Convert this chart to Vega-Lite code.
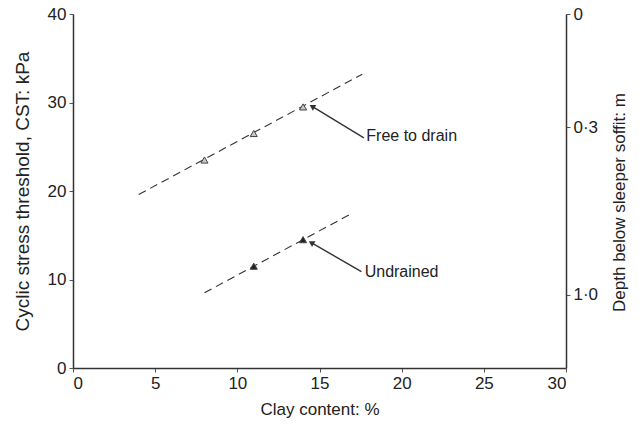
{
  "$schema": "https://vega.github.io/schema/vega-lite/v6.json",
  "width": 493,
  "height": 354,
  "autosize": "none",
  "padding": {"left": 73, "top": 14, "right": 73, "bottom": 60},
  "background": "white",
  "config": {
    "view": {"stroke": null},
    "font": "Liberation Sans",
    "axis": {
      "grid": false,
      "labelFont": "Liberation Sans",
      "titleFont": "Liberation Sans",
      "labelFontSize": 17,
      "titleFontSize": 17,
      "titleFontWeight": "normal",
      "labelColor": "#222",
      "titleColor": "#222",
      "domainColor": "#333",
      "domainWidth": 1.5,
      "tickColor": "#555",
      "tickSize": 4
    }
  },
  "datasets": {
    "lines": [
      {"series": "Free to drain", "clay": 4.0, "cst": 19.6},
      {"series": "Free to drain", "clay": 17.6, "cst": 33.2},
      {"series": "Undrained", "clay": 8.0, "cst": 8.5},
      {"series": "Undrained", "clay": 17.0, "cst": 17.5}
    ],
    "points": [
      {"series": "Free to drain", "clay": 8, "cst": 23.5},
      {"series": "Free to drain", "clay": 11, "cst": 26.5},
      {"series": "Free to drain", "clay": 14, "cst": 29.5},
      {"series": "Undrained", "clay": 11, "cst": 11.5},
      {"series": "Undrained", "clay": 14, "cst": 14.5}
    ],
    "notes": [
      {"label": "Free to drain", "tx": 17.7, "ty": 26.0, "hx": 14.6, "hy": 29.5, "lx": 17.85, "ly": 26.2},
      {"label": "Undrained", "tx": 17.55, "ty": 10.9, "hx": 14.55, "hy": 14.1, "lx": 17.75, "ly": 10.8}
    ],
    "depth": [
      {"depth": "0", "cst": 40},
      {"depth": "0·3", "cst": 27.2},
      {"depth": "1·0", "cst": 8.3}
    ]
  },
  "layer": [
    {
      "layer": [
        {
          "data": {"name": "lines"},
          "mark": {"type": "line", "strokeDash": [8, 5], "strokeWidth": 1.1, "color": "#333"},
          "encoding": {
            "x": {"field": "clay", "type": "quantitative", "scale": {"domain": [0, 30], "nice": false},
              "axis": {"values": [0, 5, 10, 15, 20, 25, 30], "title": "Clay content: %", "titlePadding": 10, "labelPadding": 3}},
            "y": {"field": "cst", "type": "quantitative", "scale": {"domain": [0, 40], "nice": false},
              "axis": {"values": [0, 10, 20, 30, 40], "title": "Cyclic stress threshold, CST: kPa", "titleFontSize": 19, "titlePadding": 15, "labelPadding": 3}},
            "detail": {"field": "series"}
          }
        },
        {
          "data": {"name": "points"},
          "mark": {"type": "point", "shape": "triangle-up", "size": 50, "filled": true, "stroke": "#444", "strokeWidth": 1},
          "encoding": {
            "x": {"field": "clay", "type": "quantitative"},
            "y": {"field": "cst", "type": "quantitative"},
            "fill": {"field": "series", "type": "nominal", "scale": {"domain": ["Free to drain", "Undrained"], "range": ["#c8c8c8", "#222"]}, "legend": null},
            "opacity": {"value": 1}
          }
        },
        {
          "data": {"name": "notes"},
          "mark": {"type": "rule", "color": "#333", "strokeWidth": 1.4},
          "encoding": {
            "x": {"field": "tx", "type": "quantitative"},
            "y": {"field": "ty", "type": "quantitative"},
            "x2": {"field": "hx"},
            "y2": {"field": "hy"}
          }
        },
        {
          "data": {"name": "notes"},
          "mark": {"type": "point", "shape": "triangle", "size": 45, "filled": true, "color": "#333", "opacity": 1, "angle": 301},
          "encoding": {
            "x": {"field": "hx", "type": "quantitative"},
            "y": {"field": "hy", "type": "quantitative"}
          }
        },
        {
          "data": {"name": "notes"},
          "mark": {"type": "text", "align": "left", "baseline": "middle", "fontSize": 16, "color": "#222", "font": "Liberation Sans"},
          "encoding": {
            "x": {"field": "lx", "type": "quantitative"},
            "y": {"field": "ly", "type": "quantitative"},
            "text": {"field": "label"}
          }
        }
      ]
    },
    {
      "data": {"name": "depth"},
      "mark": {"type": "point", "opacity": 0},
      "encoding": {
        "y": {"field": "cst", "type": "quantitative", "scale": {"domain": [0, 40], "nice": false},
          "axis": {"orient": "right", "values": [40, 27.2, 8.3], "labelExpr": "datum.value == 40 ? '0' : (datum.value > 20 ? '0·3' : '1·0')", "title": "Depth below sleeper soffit: m", "titleAngle": 270, "titleBaseline": "top", "titleY": 188, "titlePadding": 14, "labelPadding": 3}}
      }
    }
  ],
  "resolve": {"scale": {"y": "independent"}}
}
